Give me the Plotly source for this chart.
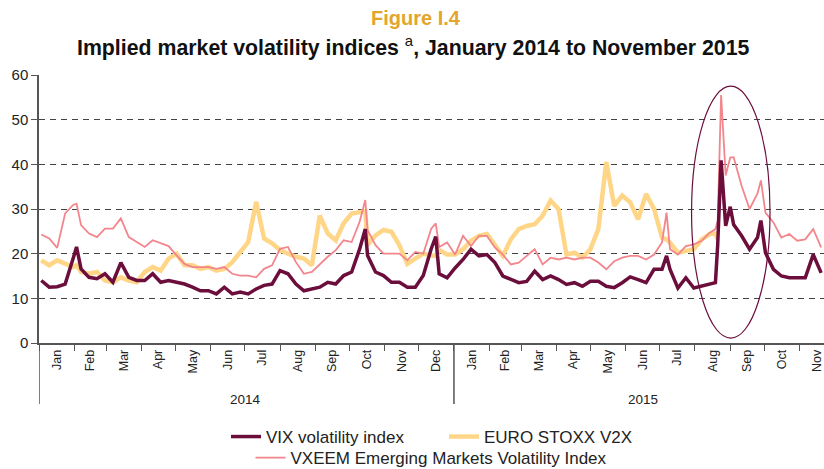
import plotly.graph_objects as go
import pandas as pd

# ---------------- data ----------------
dates = [
    "2014-01-03", "2014-01-10", "2014-01-17", "2014-01-24", "2014-01-31", "2014-02-03",
    "2014-02-07", "2014-02-14", "2014-02-21", "2014-02-28",
    "2014-03-07", "2014-03-14", "2014-03-21", "2014-03-28",
    "2014-04-04", "2014-04-11", "2014-04-18", "2014-04-25",
    "2014-05-02", "2014-05-09", "2014-05-16", "2014-05-23", "2014-05-30",
    "2014-06-06", "2014-06-13", "2014-06-20", "2014-06-27",
    "2014-07-04", "2014-07-11", "2014-07-18", "2014-07-25",
    "2014-08-01", "2014-08-08", "2014-08-15", "2014-08-22", "2014-08-29",
    "2014-09-05", "2014-09-12", "2014-09-19", "2014-09-26",
    "2014-10-03", "2014-10-10", "2014-10-15", "2014-10-17", "2014-10-24", "2014-10-31",
    "2014-11-07", "2014-11-14", "2014-11-21", "2014-11-28",
    "2014-12-05", "2014-12-12", "2014-12-16", "2014-12-19", "2014-12-26",
    "2015-01-02", "2015-01-09", "2015-01-16", "2015-01-23", "2015-01-30",
    "2015-02-06", "2015-02-13", "2015-02-20", "2015-02-27",
    "2015-03-06", "2015-03-13", "2015-03-20", "2015-03-27",
    "2015-04-03", "2015-04-10", "2015-04-17", "2015-04-24",
    "2015-05-01", "2015-05-08", "2015-05-15", "2015-05-22", "2015-05-29",
    "2015-06-05", "2015-06-12", "2015-06-19", "2015-06-26",
    "2015-07-03", "2015-07-07", "2015-07-10", "2015-07-17", "2015-07-24", "2015-07-31",
    "2015-08-07", "2015-08-14", "2015-08-19", "2015-08-21", "2015-08-24", "2015-08-28",
    "2015-09-01", "2015-09-04", "2015-09-11", "2015-09-18", "2015-09-25", "2015-09-28",
    "2015-10-02", "2015-10-09", "2015-10-16", "2015-10-23", "2015-10-30",
    "2015-11-06", "2015-11-13", "2015-11-20",
]

vix = [
    14.0, 12.5, 12.6, 13.2, 18.9, 21.5,
    16.6, 14.7, 14.4, 15.5,
    13.6, 18.0, 14.7, 14.0,
    14.0, 15.5, 13.6, 14.0,
    13.6, 13.2, 12.5, 11.7, 11.7,
    11.0, 12.5, 11.0, 11.4,
    11.0, 12.1, 12.9, 13.2,
    16.2, 15.5, 13.2, 11.7, 12.1,
    12.5, 13.6, 13.2, 15.1,
    15.9, 21.0, 25.5, 19.6, 15.9, 15.1,
    13.6, 13.6, 12.5, 12.5,
    15.1, 21.1, 23.8, 15.5, 14.6,
    16.8, 18.7, 21.0, 19.5, 19.8,
    18.0, 15.0, 14.2, 13.5,
    13.8, 16.1, 14.2, 15.0,
    14.2, 13.1, 13.5, 12.7,
    13.8, 13.8, 12.7, 12.4, 13.5,
    14.8, 14.2, 13.5, 16.5,
    16.5, 19.5, 16.5, 12.3, 14.6, 12.3,
    12.7, 13.1, 13.5, 22.0, 40.9, 26.2,
    30.5, 26.5, 24.0, 21.0, 23.6, 27.4,
    20.2, 16.5, 15.0, 14.6, 14.6,
    14.6, 19.8, 15.7,
]

vxeem = [
    24.3, 23.4, 21.3, 29.0, 30.9, 31.2,
    26.4, 24.5, 23.7, 25.6,
    25.6, 27.9, 23.7, 22.6,
    21.5, 23.0, 22.3, 21.7,
    19.6, 17.7, 17.0, 17.0, 17.0,
    16.6, 17.0, 15.5, 15.1,
    15.1, 14.7, 16.6, 17.4,
    21.1, 21.5, 18.1, 15.5, 15.9,
    17.7, 19.3, 20.8, 23.0,
    22.6, 27.1, 32.0, 25.3, 21.9, 20.0,
    20.0, 20.0, 18.5, 20.4,
    20.0, 25.6, 26.8, 21.5, 22.5,
    19.8, 24.0, 21.7, 24.0, 24.0,
    21.4, 19.8, 17.6, 18.0,
    19.5, 21.0, 17.6, 19.1,
    18.7, 19.1, 18.7, 19.1,
    19.1, 18.0, 16.5, 18.3, 19.1,
    19.5, 19.5, 18.7, 19.8,
    22.5, 29.2, 21.0, 19.8, 21.7, 22.1,
    22.9, 24.7, 25.5, 27.4, 55.5, 37.5,
    41.5, 41.6, 35.2, 30.0, 33.5, 36.4,
    29.2, 27.0, 23.6, 24.4, 22.9,
    23.2, 25.5, 21.4,
]

v2x = [
    18.5, 17.4, 18.5, 17.7, 17.0, 17.4,
    15.9, 15.5, 15.9, 14.0,
    13.6, 14.7, 14.0, 13.6,
    15.9, 17.0, 16.2, 18.9,
    20.0, 17.4, 17.4, 16.6, 17.0,
    16.2, 16.6, 18.1, 20.5,
    22.6, 31.6, 23.4, 22.3,
    20.8, 20.0, 19.3, 18.9, 17.4,
    28.5, 24.5, 23.0, 26.8,
    29.0, 29.4, 29.5, 21.9, 24.1, 25.3,
    24.9, 21.9, 17.7, 18.9,
    20.0, 19.6, 19.5, 20.8, 19.8,
    19.8, 21.0, 22.9, 24.0, 24.4,
    22.1, 19.5, 23.2, 25.5,
    26.2, 26.6, 28.5, 31.9,
    30.0, 19.8, 20.2, 19.1,
    21.0, 25.5, 40.5, 30.7, 33.0,
    31.5, 27.7, 33.4, 30.0,
    23.6, 23.2, 22.5, 20.2, 20.6, 21.0,
    23.2, 24.4, 24.5, 23.2, None, None,
    None, None, None, None, None, None,
    None, None, None, None, None,
    None, None, None,
]

series_names = ["VIX volatility index", "EURO STOXX V2X",
                "VXEEM Emerging Markets Volatility Index"]
month_labels = ["Jan", "Feb", "Mar", "Apr", "May", "Jun", "Jul", "Aug", "Sep",
                "Oct", "Nov", "Dec",
                "Jan", "Feb", "Mar", "Apr", "May", "Jun", "Jul", "Aug", "Sep",
                "Oct", "Nov"]
years = ["2014", "2015"]
year_centres = ["2014-07-02", "2015-06-16"]
year_starts = ["2014-01-01", "2015-01-01"]

# tick positions: month boundaries (tick marks) and mid-months (labels)
month_starts = pd.date_range("2014-01-01", periods=len(month_labels) + 1, freq="MS")
month_mids = [a + (b - a) / 2 for a, b in zip(month_starts[:-1], month_starts[1:])]

FONT = "Liberation Sans, Arial, sans-serif"
C_VIX = "#6B0E3C"
C_V2X = "#FFD688"
C_VXEEM = "#F2868C"

PLOT_LEFT, PLOT_RIGHT = 39, 824
PLOT_TOP, PLOT_BOTTOM = 75, 343
PH = PLOT_BOTTOM - PLOT_TOP
PW = PLOT_RIGHT - PLOT_LEFT


def py(pix):
    """pixel row -> paper y"""
    return (PLOT_BOTTOM - pix) / PH


def px(pix):
    """pixel column -> paper x"""
    return (pix - PLOT_LEFT) / PW


fig = go.Figure()
fig.add_trace(go.Scatter(x=dates, y=v2x, name=series_names[1], mode="lines",
                         line=dict(color=C_V2X, width=4.5), legend="legend",
                         legendrank=2))
fig.add_trace(go.Scatter(x=dates, y=vxeem, name=series_names[2], mode="lines",
                         line=dict(color=C_VXEEM, width=1.8), legend="legend2"))
fig.add_trace(go.Scatter(x=dates, y=vix, name=series_names[0], mode="lines",
                         line=dict(color=C_VIX, width=3.5), legend="legend",
                         legendrank=1))

shapes = []
for ys in year_starts:
    shapes.append(dict(type="line", xref="x", yref="paper", x0=ys, x1=ys,
                       y0=0, y1=py(404), line=dict(color="#555555", width=1.5)))
shapes.append(dict(type="circle", xref="x", yref="y", x0="2015-07-29",
                   x1="2015-10-06", y0=1.1, y1=57.5,
                   line=dict(color=C_VIX, width=1.2)))

annotations = [
    dict(text="<b>Figure I.4</b>", x=px(416), xref="paper", y=py(18), yref="paper",
         yanchor="middle", showarrow=False,
         font=dict(family=FONT, size=20, color="#E3A52B")),
    dict(text="<b>Implied market volatility indices </b><sup>a</sup><b>, January 2014 to November 2015</b>",
         x=px(413), xref="paper", y=py(46), yref="paper", yanchor="middle",
         showarrow=False, font=dict(family=FONT, size=21.3, color="#111111")),
]
for yl, yc in zip(years, year_centres):
    annotations.append(dict(text=yl, x=yc, xref="x", y=py(399), yref="paper",
                            showarrow=False, yanchor="middle",
                            font=dict(family=FONT, size=13.5, color="#222222")))

fig.update_layout(
    width=824, height=469,
    margin=dict(l=PLOT_LEFT, r=824 - PLOT_RIGHT, t=PLOT_TOP, b=469 - PLOT_BOTTOM,
                autoexpand=False),
    paper_bgcolor="white", plot_bgcolor="white",
    font=dict(family=FONT, size=13, color="#222222"),
    shapes=shapes, annotations=annotations,
    legend=dict(orientation="h", x=px(226), xanchor="left", y=py(419), yanchor="top",
                font=dict(size=17, color="#222222"), itemwidth=30,
                entrywidth=173, entrywidthmode="pixels",
                bgcolor="rgba(0,0,0,0)", traceorder="normal"),
    legend2=dict(orientation="h", x=0.5, xanchor="center", y=py(440), yanchor="top",
                 font=dict(size=17, color="#222222"), itemwidth=30,
                 bgcolor="rgba(0,0,0,0)"),
    showlegend=True,
)
fig.update_xaxes(
    type="date", range=["2014-01-01", "2015-11-22 12:00"], automargin=False,
    tickmode="array", tickvals=month_mids, ticktext=month_labels,
    tickangle=-90, ticks="", ticklabelstandoff=0,
    tickfont=dict(size=12.5, color="#222222"),
    minor=dict(tickmode="array", tickvals=list(month_starts), ticks="outside",
               ticklen=6, tickcolor="#555555", tickwidth=1.3, showgrid=False),
    showline=True, linecolor="#555555", linewidth=1.5,
    showgrid=False, zeroline=False,
)
fig.update_yaxes(
    range=[0, 60], dtick=10, tick0=0, automargin=False,
    showgrid=True, gridcolor="#444444", griddash="6px,5px", gridwidth=1,
    ticks="outside", ticklen=6, tickcolor="#555555",
    tickfont=dict(size=15, color="#222222"),
    showline=True, linecolor="#555555", linewidth=1.5, zeroline=False,
)

fig.write_html("out.html", config={"displayModeBar": False},
               post_script="document.body.style.margin='0px';"
                           "document.body.style.overflow='hidden';")
